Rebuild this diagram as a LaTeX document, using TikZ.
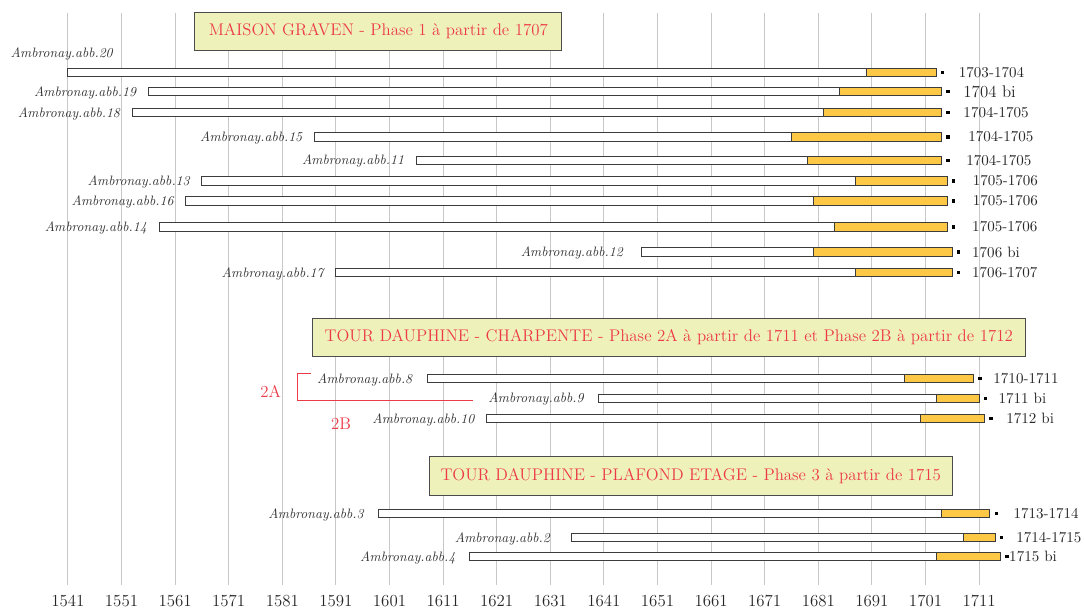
\documentclass[tikz,border=0pt]{standalone}
\usepackage{fontspec}
\usetikzlibrary{positioning}
\definecolor{sapwood}{RGB}{252,200,70}
\definecolor{titlefill}{RGB}{238,242,186}
\definecolor{titletext}{RGB}{236,58,72}
\definecolor{gridgray}{RGB}{200,200,200}
\definecolor{bardraw}{RGB}{60,60,60}
\tikzset{
	grid line/.style={draw=gridgray, line width=0.6pt},
	heartwood/.style={draw=bardraw, fill=white, line width=0.6pt},
	sapbar/.style={draw=bardraw, fill=sapwood, line width=0.6pt},
	sample/.style={font=\fontsize{9.7}{11}\selectfont\itshape, text=black!80, inner sep=0pt, yshift=-0.3mm},
	felling/.style={font=\fontsize{10.7}{12}\selectfont, text=black!85, inner sep=0pt},
	phase/.style={draw=black!70, fill=titlefill, text=titletext, font=\fontsize{12}{14}\selectfont, minimum height=9.6mm, inner sep=0pt, line width=0.7pt},
	yearlabel/.style={font=\fontsize{12}{14}\selectfont, text=black!85},
	subphase/.style={text=titletext, font=\fontsize{12}{14}\selectfont},
	marker/.style={fill=black, minimum size=0.85mm, inner sep=0pt}
}
\begin{document}
\begin{tikzpicture}[x=1.34mm, y=-0.25mm]
	\useasboundingbox (-12.668,0) rectangle (189.57,609);

	% decades
	\foreach \yr in {0,10,...,170} {
		\draw[grid line] (\yr,13) -- (\yr,585);
		\pgfmathtruncatemacro{\lbl}{1541+\yr}
		\node[yearlabel] (y\lbl) at (\yr,601) {\lbl};
	}

	% phases
	\node[phase, minimum width=91.7mm] (phase1) at (57.92,31.5) {MAISON GRAVEN - Phase 1 à partir de 1707};
	\node[phase, minimum width=178.25mm] (phase2) at (112.1,337.5) {TOUR DAUPHINE - CHARPENTE - Phase 2A à partir de 1711 et Phase 2B à partir de 1712};
	\node[phase, minimum width=130.75mm] (phase3) at (116.2,476.1) {TOUR DAUPHINE - PLAFOND ETAGE - Phase 3 à partir de 1715};

	% abb.20, name above the bar
	\coordinate (b20) at (0,72.5);
	\coordinate (e20) at (162,72.5);
	\draw[heartwood] (0,68.3) rectangle (149,76.7);
	\draw[sapbar] (149,68.3) rectangle (162,76.7);
	\node[sample, anchor=east] (n20) at (8.41,53) {Ambronay.abb.20};
	\node[marker] (m20) at ([xshift=1.6mm]e20) {};
	\node[felling, right=5.6mm of e20] (d20) {1703-1704};

	% id / y / first ring / sapwood / last ring / dating / gaps
	\foreach \id/\y/\from/\sap/\last/\lab/\lgap/\rgap in {
		19/91.7/15/144/163/{\fontsize{12}{14}\selectfont 1704 bi}/3mm/5.4mm,
		18/112.7/12/141/163/1704-1705/3mm/5.4mm,
		15/136.8/46/135/163/1704-1705/3mm/6.6mm,
		11/160.2/65/138/163/1704-1705/3mm/6.1mm,
		13/181/25/147/164/1705-1706/3mm/6.4mm,
		16/201/22/139/164/1705-1706/3mm/6.4mm,
		14/226.8/17/143/164/1705-1706/3mm/6.25mm,
		12/252/107/139/165/1706 bi/4.6mm/4.9mm,
		17/272.7/50/147/165/1706-1707/3mm/4.9mm,
		8/378.5/67/156/169/1710-1711/3.65mm/4.85mm,
		9/398.3/99/162/170/1711 bi/3.7mm/4.8mm,
		10/418.4/78/159/171/1712 bi/2.85mm/5.4mm,
		3/513.7/58/163/172/1713-1714/3.75mm/5.85mm,
		2/537.7/94/167/173/1714-1715/5.4mm/5.2mm,
		4/556.7/75/162/174/1715 bi/3.6mm/2.1mm} {
		\coordinate (b\id) at (\from,\y);
		\coordinate (e\id) at (\last,\y);
		\draw[heartwood] (\from,\y-4.2) rectangle (\sap,\y+4.2);
		\draw[sapbar] (\sap,\y-4.2) rectangle (\last,\y+4.2);
		\node[sample, left=\lgap of b\id] (n\id) {Ambronay.abb.\id};
		\node[marker] (m\id) at ([xshift=1.6mm]e\id) {};
		\node[felling, right=\rgap of e\id] (d\id) {\lab};
	}

	% 2A / 2B
	\draw[titletext, line width=0.6pt] (45.35,373.3) -- (42.8,373.3) -- (42.8,400) -- (75.52,400);
	\node[subphase] (p2a) at (37.84,391) {2A};
	\node[subphase] (p2b) at (50.95,423.3) {2B};

\end{tikzpicture}
\end{document}
